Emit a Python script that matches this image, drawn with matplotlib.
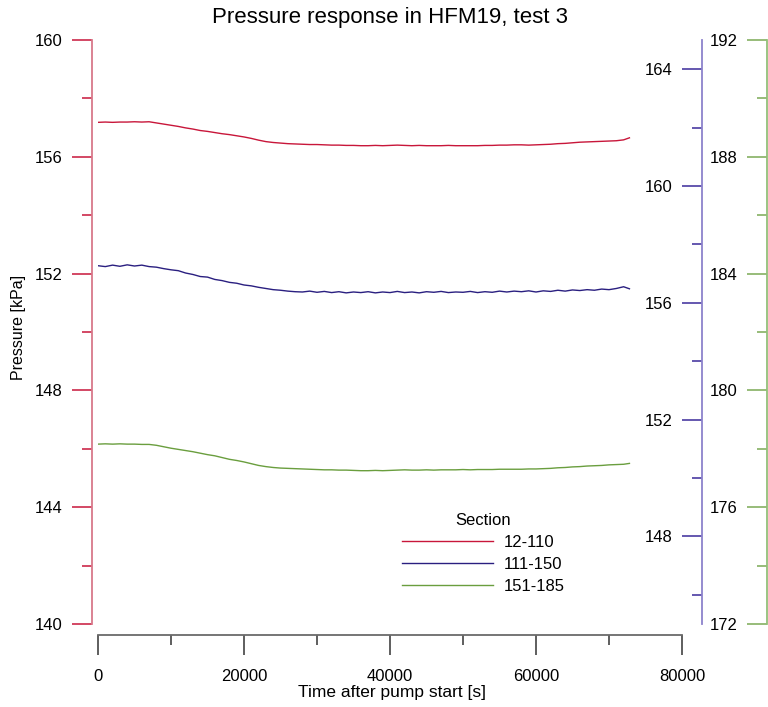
import matplotlib
matplotlib.use('Agg')
import matplotlib.pyplot as plt
from matplotlib.ticker import MultipleLocator

plt.rcParams['font.family'] = ['Liberation Sans', 'DejaVu Sans']

# ---------------- data ----------------
time_s = [0, 1000, 2000, 3000, 4000, 5000, 6000, 7000, 8000, 9000,
          10000, 11000, 12000, 13000, 14000, 15000, 16000, 17000, 18000, 19000,
          20000, 21000, 22000, 23000, 24000, 25000, 26000, 27000, 28000, 29000,
          30000, 31000, 32000, 33000, 34000, 35000, 36000, 37000, 38000, 39000,
          40000, 41000, 42000, 43000, 44000, 45000, 46000, 47000, 48000, 49000,
          50000, 51000, 52000, 53000, 54000, 55000, 56000, 57000, 58000, 59000,
          60000, 61000, 62000, 63000, 64000, 65000, 66000, 67000, 68000, 69000,
          70000, 71000, 72000, 72800]

sec_12_110 = [157.18, 157.19, 157.18, 157.19, 157.19, 157.20, 157.19, 157.20, 157.16, 157.12,
              157.08, 157.04, 156.99, 156.95, 156.90, 156.87, 156.83, 156.79, 156.76, 156.72,
              156.68, 156.63, 156.57, 156.52, 156.49, 156.47, 156.45, 156.44, 156.43, 156.42,
              156.42, 156.41, 156.40, 156.40, 156.39, 156.39, 156.38, 156.38, 156.39, 156.38,
              156.39, 156.40, 156.39, 156.38, 156.39, 156.38, 156.38, 156.38, 156.39, 156.38,
              156.38, 156.38, 156.38, 156.39, 156.39, 156.40, 156.40, 156.41, 156.41, 156.40,
              156.41, 156.42, 156.43, 156.45, 156.46, 156.48, 156.50, 156.51, 156.52, 156.53,
              156.54, 156.55, 156.58, 156.65]

sec_111_150 = [157.27, 157.24, 157.29, 157.25, 157.30, 157.26, 157.29, 157.24, 157.22, 157.17,
               157.13, 157.10, 157.02, 156.97, 156.90, 156.88, 156.80, 156.76, 156.70, 156.67,
               156.61, 156.58, 156.53, 156.49, 156.45, 156.43, 156.40, 156.38, 156.37, 156.40,
               156.36, 156.39, 156.35, 156.38, 156.34, 156.37, 156.35, 156.38, 156.34, 156.37,
               156.35, 156.39, 156.35, 156.37, 156.34, 156.38, 156.36, 156.39, 156.35, 156.37,
               156.36, 156.39, 156.35, 156.38, 156.36, 156.40, 156.37, 156.40, 156.38, 156.41,
               156.37, 156.41, 156.39, 156.43, 156.40, 156.44, 156.42, 156.45, 156.43, 156.47,
               156.45, 156.49, 156.55, 156.48]

sec_151_185 = [178.16, 178.17, 178.16, 178.17, 178.16, 178.16, 178.15, 178.15, 178.12, 178.07,
               178.02, 177.98, 177.94, 177.90, 177.85, 177.80, 177.76, 177.70, 177.64, 177.60,
               177.55, 177.49, 177.43, 177.39, 177.36, 177.34, 177.33, 177.32, 177.31, 177.30,
               177.29, 177.28, 177.28, 177.27, 177.27, 177.26, 177.25, 177.25, 177.26, 177.25,
               177.26, 177.27, 177.28, 177.27, 177.27, 177.28, 177.27, 177.28, 177.28, 177.28,
               177.29, 177.28, 177.29, 177.29, 177.29, 177.30, 177.30, 177.30, 177.30, 177.31,
               177.31, 177.32, 177.33, 177.35, 177.36, 177.38, 177.39, 177.41, 177.42, 177.43,
               177.45, 177.46, 177.47, 177.50]

labels = ['12-110', '111-150', '151-185']

# ---------------- styles ----------------
red_line, red_tick, red_spine = '#c8163a', '#c8163a', '#d8788a'
blue_line, blue_tick, blue_spine = '#2a1f80', '#3a2a9a', '#8c82cc'
green_line, green_tick, green_spine = '#6a9e3e', '#7aaa55', '#92bf78'
TICK_FS = 12

W, H = 768, 707
fig = plt.figure(figsize=(W / 100, H / 100), dpi=100)
ax = fig.add_axes([98 / W, 1 - 624 / H, 584 / W, 584 / H])
ax.patch.set_visible(False)

ax.set_xlim(0, 80000)
ax.set_ylim(140, 160)
for s in ['top', 'right']:
    ax.spines[s].set_visible(False)
ax.spines['left'].set_position(('outward', 4.3))
ax.spines['left'].set_color(red_spine)
ax.spines['left'].set_linewidth(1.3)
ax.spines['bottom'].set_position(('outward', 7.9))
ax.spines['bottom'].set_color('#6a6a6a')
ax.spines['bottom'].set_linewidth(1.3)

ax.xaxis.set_major_locator(MultipleLocator(20000))
ax.xaxis.set_minor_locator(MultipleLocator(10000))
ax.yaxis.set_major_locator(MultipleLocator(4))
ax.yaxis.set_minor_locator(MultipleLocator(2))
ax.tick_params(axis='y', which='major', length=14.4, width=1.1, color=red_tick, pad=7, labelsize=TICK_FS)
ax.tick_params(axis='y', which='minor', length=7.2, width=1.1, color=red_tick)
ax.tick_params(axis='x', which='major', length=14.4, width=1.1, color='#333333', pad=10, labelsize=TICK_FS)
ax.tick_params(axis='x', which='minor', length=7.2, width=1.1, color='#333333')

l1, = ax.plot(time_s, sec_12_110, color=red_line, lw=1.0)


def make_twin(ylim, pos, tick_c, spine_c, major, minor):
    a = ax.twinx()
    a.set_ylim(*ylim)
    for s in a.spines.values():
        s.set_visible(False)
    a.spines['left'].set_visible(True)
    a.spines['left'].set_position(('axes', pos))
    a.spines['left'].set_color(spine_c)
    a.spines['left'].set_linewidth(1.3)
    a.yaxis.set_ticks_position('left')
    a.yaxis.set_label_position('left')
    a.yaxis.set_major_locator(MultipleLocator(major))
    a.yaxis.set_minor_locator(MultipleLocator(minor))
    a.tick_params(axis='y', which='major', length=14.4, width=1.1, color=tick_c, pad=7, labelsize=TICK_FS)
    a.tick_params(axis='y', which='minor', length=7.2, width=1.1, color=tick_c)
    return a


ax2 = make_twin((145, 165), (702 - 98) / 584, blue_tick, blue_spine, 4, 2)
ax2.set_yticks([148, 152, 156, 160, 164])
ax2.set_yticks([146, 150, 154, 158, 162], minor=True)
l2, = ax2.plot(time_s, sec_111_150, color=blue_line, lw=1.0)

ax3 = make_twin((172, 192), (767 - 98) / 584, green_tick, green_spine, 4, 2)
l3, = ax3.plot(time_s, sec_151_185, color=green_line, lw=1.0)

fig.text(390 / W, 1 - 17 / H, 'Pressure response in HFM19, test 3', ha='center', va='center', fontsize=16)
fig.text(19 / W, 1 - 327 / H, 'Pressure [kPa]', ha='center', va='center', rotation=90, fontsize=11.5)
fig.text(392 / W, 1 - 692 / H, 'Time after pump start [s]', ha='center', va='center', fontsize=12.5)

fig.legend([l1, l2, l3], labels, title='Section', loc='upper left',
           bbox_to_anchor=(395 / W, 1 - 506 / H), frameon=False, fontsize=12, title_fontsize=12,
           handlelength=5.5, handletextpad=0.6, labelspacing=0.42, borderaxespad=0)

fig.savefig('out.png', dpi=100)
